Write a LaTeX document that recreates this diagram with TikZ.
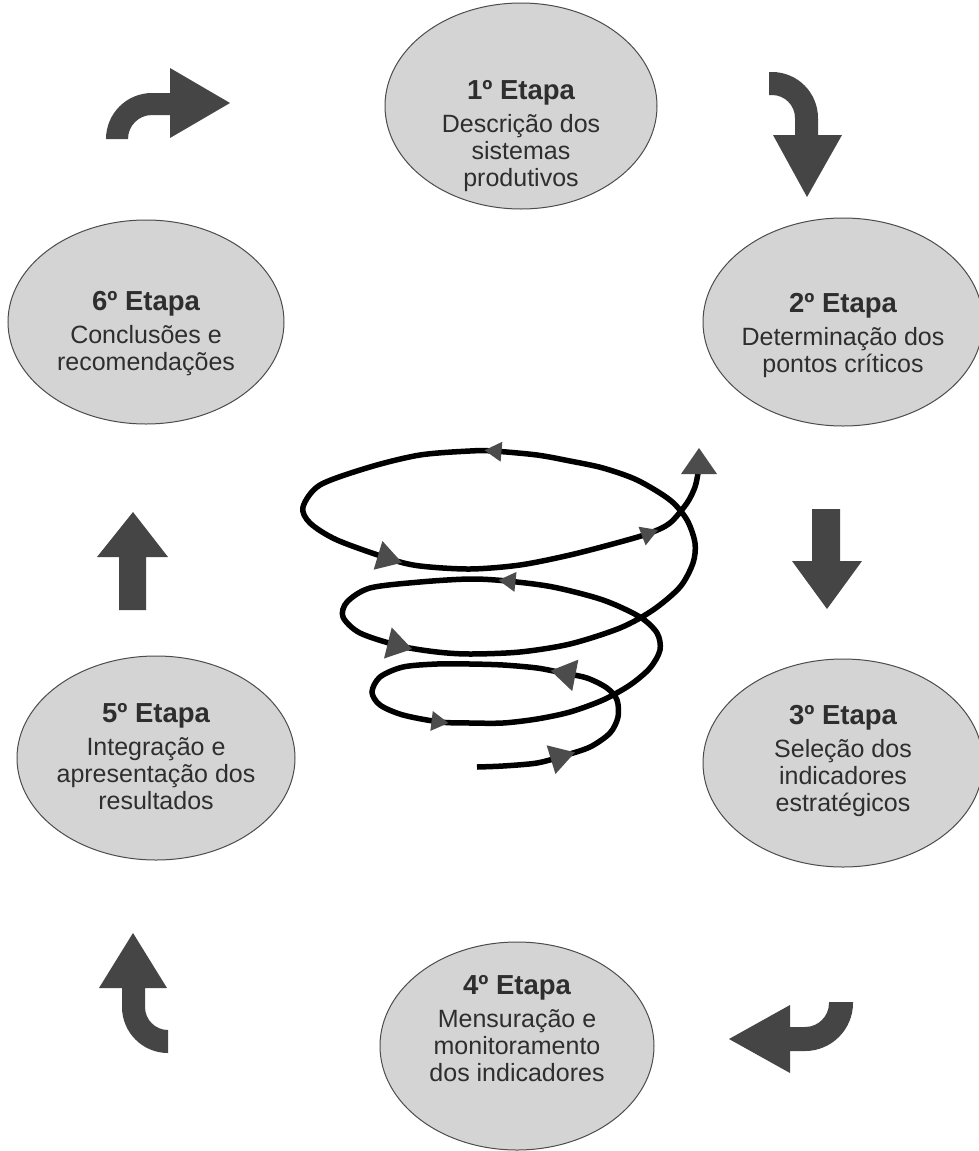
\documentclass[tikz,border=0pt]{standalone}
\usepackage{fontspec}
\setmainfont{Liberation Sans}
\usetikzlibrary{shapes.geometric}
\definecolor{ellfill}{gray}{0.83}
\definecolor{ellline}{gray}{0.30}
\definecolor{blockgray}{gray}{0.27}
\definecolor{headgray}{gray}{0.30}
\definecolor{txtgray}{gray}{0.18}
\newcommand\sphead[5]{\fill[headgray, shift={(#1,#2)}, rotate=#3] (#4/2,0) -- (-#4/2,#5) -- (-#4/2,-#5) -- cycle;}
\begin{document}
\begin{tikzpicture}[x=1pt,y=-1pt,
  stage/.style={ellipse, draw=ellline, line width=1pt, fill=ellfill, inner sep=0pt},
  txt/.style={anchor=north, inner sep=0pt, align=center, text=txtgray, font=\fontsize{25}{27}\selectfont},
  blockarrow/.style={fill=blockgray, draw=none},
  spiral/.style={line width=5.5pt, black}]
\useasboundingbox (0,0) rectangle (978,1151);
\fill[white] (0,0) rectangle (978,1151);

% stages
\node[stage, minimum width=272pt, minimum height=206pt] (e1) at (521,106) {};
\node[stage, minimum width=280pt, minimum height=208pt] (e2) at (843,322) {};
\node[stage, minimum width=280pt, minimum height=208pt] (e3) at (843,763) {};
\node[stage, minimum width=274pt, minimum height=208pt] (e4) at (517,1046) {};
\node[stage, minimum width=278pt, minimum height=204pt] (e5) at (156,758) {};
\node[stage, minimum width=276pt, minimum height=204pt] (e6) at (146,322) {};

\node[txt] (t1) at (521,80) {{\fontsize{27.5}{30}\selectfont\bfseries 1º Etapa}\\[6pt] Descrição dos\\ sistemas\\ produtivos};
\node[txt] (t2) at (843,293) {{\fontsize{27.5}{30}\selectfont\bfseries 2º Etapa}\\[6pt] Determinação dos\\ pontos críticos};
\node[txt] (t3) at (843,705) {{\fontsize{27.5}{30}\selectfont\bfseries 3º Etapa}\\[6pt] Seleção dos\\ indicadores\\ estratégicos};
\node[txt] (t4) at (517,975) {{\fontsize{27.5}{30}\selectfont\bfseries 4º Etapa}\\[6pt] Mensuração e\\ monitoramento\\ dos indicadores};
\node[txt] (t5) at (156,703) {{\fontsize{27.5}{30}\selectfont\bfseries 5º Etapa}\\[6pt] Integração e\\ apresentação dos\\ resultados};
\node[txt] (t6) at (146,291) {{\fontsize{27.5}{30}\selectfont\bfseries 6º Etapa}\\[6pt] Conclusões e\\ recomendações};

% block arrows
\fill[blockarrow] (106,139) .. controls (106,113.6) and (126.6,93) .. (152,93) -- (170,93) -- (170,68) -- (230,103) -- (170,138) -- (170,115) -- (152,115) .. controls (138.7,115) and (128,125.7) .. (128,139) -- cycle;
\fill[blockarrow] (769,72) -- (772,72) .. controls (797.4,72) and (818,92.6) .. (818,118) -- (818,135) -- (842,135) -- (807,197) -- (773,135) -- (795,135) -- (795,118) .. controls (795,105.3) and (784.7,95) .. (772,95) -- (769,95) -- cycle;
\fill[blockarrow] (812,509) -- (840,509) -- (840,561) -- (862,561) -- (827,609) -- (792,561) -- (812,561) -- cycle;
\fill[blockarrow] (829,1002) -- (853,1002) -- (853,1003) .. controls (853,1029.5) and (831.5,1051) .. (805,1051) -- (790,1051) -- (790,1073) -- (729,1039) -- (790,1005) -- (790,1027) -- (805,1027) .. controls (818.3,1027) and (829,1016.3) .. (829,1003) -- cycle;
\fill[blockarrow] (168,1053) .. controls (142.6,1053) and (122,1032.4) .. (122,1007) -- (122,988) -- (99,988) -- (133,933) -- (167,988) -- (145,988) -- (145,1007) .. controls (145,1019.7) and (155.3,1030) .. (168,1030) -- cycle;
\fill[blockarrow] (119,610) -- (146,610) -- (146,557) -- (168,557) -- (133,512) -- (97,557) -- (119,557) -- cycle;

% spiral
\draw[spiral] plot[smooth, tension=0.5] coordinates {
(477,767) (503,766) (537,763) (563,756) (590,747) (610,733) (618,717) (617,700) (607,688) (587,678) (563,673) (537,668) (503,665) (470,664) (437,664) (403,667) (380,677) (372,692) (380,705) (403,715) (440,722) (470,723) (503,723) (537,719) (570,712) (603,700) (630,685) (650,668) (660,650) (657,633) (640,617) (603,600) (553,587) (507,581) (470,579) (420,582) (370,588) (347,602) (343,617) (360,633) (400,646) (437,652) (470,654) (520,652) (570,644) (620,628) (653,610) (680,587) (693,563) (695,543) (687,520) (670,500) (637,480) (603,468) (570,461) (537,455) (493,451) (470,451) (420,455) (370,467) (320,485) (303,507) (310,523) (337,540) (390,559) (420,566) (470,569) (520,565) (570,555) (620,542) (650,533) (670,523) (687,503) (695,487) (698,473)};
\sphead{563}{756}{17}{25}{15}
\sphead{563}{673}{169}{25}{16}
\sphead{440}{722}{-7}{17}{10}
\sphead{507}{581}{174}{17}{10}
\sphead{400}{646}{-14}{25}{16}
\sphead{493}{451}{175}{17}{10}
\sphead{390}{559}{-17}{25}{15}
\sphead{650}{533}{21}{17}{10}
\fill[headgray] (681,474) -- (717,474) -- (699,448) -- cycle;
\end{tikzpicture}
\end{document}
